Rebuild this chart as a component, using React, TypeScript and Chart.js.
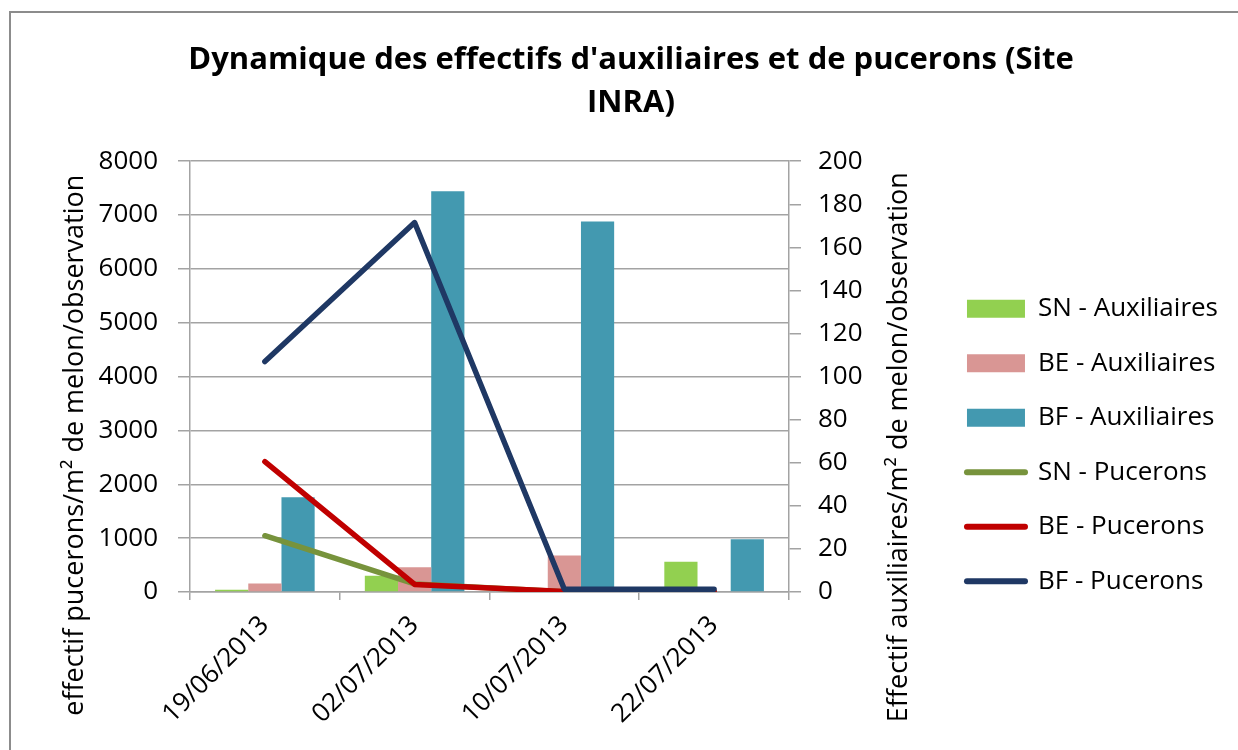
import React, { useEffect, useRef } from "react";
import { Chart, registerables } from "chart.js";

Chart.register(...registerables);

const categories = ["19/06/2013", "02/07/2013", "10/07/2013", "22/07/2013"];

// Auxiliaires (right axis)
const snAuxiliaires = [1, 7.5, 0, 14];
const beAuxiliaires = [4, 11.5, 17, 0];
const bfAuxiliaires = [44, 186, 172, 24.5];

// Pucerons (left axis)
const snPucerons = [1045, 150, 5, 5];
const bePucerons = [2420, 140, 10, 10];
const bfPucerons = [4280, 6860, 50, 50];

const titleLines = ["Dynamique des effectifs d'auxiliaires et de pucerons (Site", "INRA)"];
const leftAxisTitle = "effectif pucerons/m² de melon/observation";
const rightAxisTitle = "Effectif auxiliaires/m² de melon/observation";

const FONT = "'Open Sans', Lato, sans-serif";
const GRID = "#a3a3a3";

const axisTitlesPlugin = {
  id: "axisTitles",
  afterDraw(chart: any) {
    const { ctx, chartArea, scales } = chart;
    const cy = chartArea.top + 284;
    ctx.save();
    ctx.fillStyle = "#000";
    ctx.font = `27px ${FONT}`;
    ctx.textAlign = "center";
    ctx.textBaseline = "middle";
    ctx.save();
    ctx.translate(scales.yL.right - 115, cy);
    ctx.rotate(-Math.PI / 2);
    ctx.fillText(leftAxisTitle, 0, 0);
    ctx.restore();
    ctx.save();
    ctx.translate(scales.yR.left + 110, cy + 2);
    ctx.rotate(-Math.PI / 2);
    ctx.fillText(rightAxisTitle, 0, 0);
    ctx.restore();
    ctx.restore();
  },
};

export default function App() {
  const ref = useRef<HTMLCanvasElement | null>(null);

  useEffect(() => {
    if (!ref.current) return;
    const tickFont = { family: FONT, size: 26 };
    const plain = (v: any) => String(v);
    const chart = new Chart(ref.current, {
      type: "bar",
      data: {
        labels: categories,
        datasets: [
          { type: "bar", label: "SN - Auxiliaires", data: snAuxiliaires, backgroundColor: "#92d050", yAxisID: "yR", order: 10 },
          { type: "bar", label: "BE - Auxiliaires", data: beAuxiliaires, backgroundColor: "#d99694", yAxisID: "yR", order: 10 },
          { type: "bar", label: "BF - Auxiliaires", data: bfAuxiliaires, backgroundColor: "#4399b0", yAxisID: "yR", order: 10 },
          { type: "line", label: "SN - Pucerons", data: snPucerons, borderColor: "#77933c", backgroundColor: "#77933c", yAxisID: "yL", order: 3, borderWidth: 5.5, pointRadius: 0, borderCapStyle: "round", borderJoinStyle: "round" },
          { type: "line", label: "BE - Pucerons", data: bePucerons, borderColor: "#c00000", backgroundColor: "#c00000", yAxisID: "yL", order: 2, borderWidth: 5.5, pointRadius: 0, borderCapStyle: "round", borderJoinStyle: "round" },
          { type: "line", label: "BF - Pucerons", data: bfPucerons, borderColor: "#1f3864", backgroundColor: "#1f3864", yAxisID: "yL", order: 1, borderWidth: 5.5, pointRadius: 0, borderCapStyle: "round", borderJoinStyle: "round" },
        ] as any,
      },
      options: {
        responsive: false,
        animation: false,
        devicePixelRatio: 1,
        layout: { padding: { left: 34, right: 10, top: 0, bottom: 0 } },
        datasets: {
          bar: { categoryPercentage: 0.665, barPercentage: 1 },
        } as any,
        plugins: {
          tooltip: { enabled: false },
          title: {
            display: true,
            text: titleLines,
            color: "#000",
            font: { family: FONT, size: 31, weight: "bold", lineHeight: 1.39 },
            padding: { top: 38.5, bottom: 36.5 },
          },
          legend: {
            position: "right",
            maxWidth: 400,
            title: { display: true, text: " ", padding: { top: 140, bottom: 0 }, font: { size: 1, lineHeight: 0 } },
            labels: {
              font: { family: FONT, size: 26 },
              color: "#000",
              usePointStyle: true,
              pointStyleWidth: 58,
              boxHeight: 18,
              padding: 28.5,
              generateLabels: (chart: any) =>
                chart.data.datasets.map((ds: any, i: number) => {
                  const isLine = ds.type === "line";
                  const c = isLine ? ds.borderColor : ds.backgroundColor;
                  return {
                    text: ds.label,
                    fillStyle: c,
                    strokeStyle: c,
                    lineWidth: isLine ? 6 : 0,
                    lineCap: "round",
                    pointStyle: isLine ? "line" : "rect",
                    hidden: false,
                    datasetIndex: i,
                    fontColor: "#000",
                  };
                }),
            },
          },
        },
        scales: {
          x: {
            type: "category",
            offset: true,
            grid: { display: true, drawOnChartArea: false, drawTicks: true, tickLength: 8, color: GRID, lineWidth: 1.5, offset: true },
            border: { display: true, color: GRID, width: 1.5 },
            ticks: { font: tickFont, color: "#000", maxRotation: 45, minRotation: 45, padding: 10 },
            afterFit: (s: any) => { s.height = 158; },
          },
          yL: {
            type: "linear",
            position: "left",
            min: 0,
            max: 8000,
            ticks: { stepSize: 1000, font: tickFont, color: "#000", padding: 20, callback: plain },
            grid: { color: GRID, lineWidth: 1.5, tickLength: 12 },
            border: { display: true, color: GRID, width: 1.5 },
            afterFit: (s: any) => { s.width = 156; },
          },
          yR: {
            type: "linear",
            position: "right",
            min: 0,
            max: 200,
            ticks: { stepSize: 20, font: tickFont, color: "#000", padding: 17, callback: plain },
            grid: { drawOnChartArea: false, color: GRID, lineWidth: 1.5, tickLength: 12 },
            border: { display: true, color: GRID, width: 1.5 },
            afterFit: (s: any) => { s.width = 149.5; },
          },
        },
      } as any,
      plugins: [axisTitlesPlugin],
    });
    return () => chart.destroy();
  }, []);

  return (
    <div style={{ position: "absolute", left: 0, top: 0, width: 1238, height: 750, background: "#fff", overflow: "hidden" }}>
      <div
        style={{
          position: "absolute",
          left: 9,
          top: 11,
          width: 1238,
          height: 760,
          borderTop: "2px solid #8c8c8c",
          borderLeft: "2px solid #8c8c8c",
          boxSizing: "border-box",
        }}
      />
      <canvas ref={ref} width={1238} height={750} style={{ position: "absolute", left: 0, top: 0, width: 1238, height: 750 }} />
    </div>
  );
}
